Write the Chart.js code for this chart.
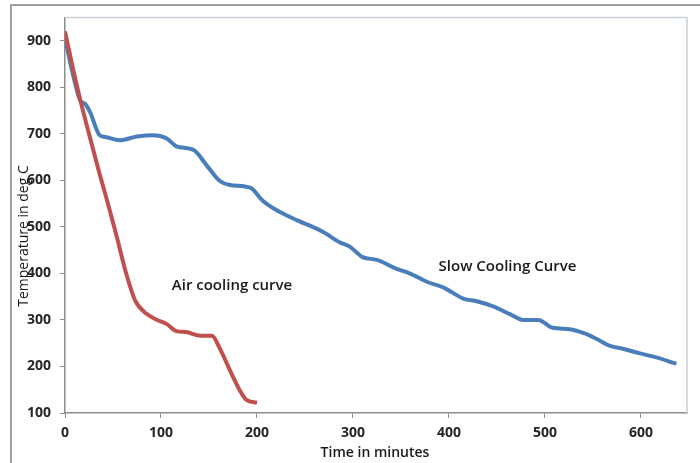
<!DOCTYPE html>
<html>
<head>
<meta charset="utf-8">
<script src="https://cdn.jsdelivr.net/npm/chart.js@4.4.0/dist/chart.umd.min.js"></script>
<style>
    html, body { margin: 0; padding: 0; background: #fff; }
    #wrap { position: relative; width: 700px; height: 463px; }
    #frame { position: absolute; left: 10px; top: 4px; right: 0; bottom: 0;
             border-top: 2px solid #a0a0a0; border-left: 2px solid #a0a0a0; }
    canvas { position: absolute; left: 0; top: 0; }
</style>
</head>
<body>
<div id="wrap">
    <div id="frame"></div>
    <canvas id="coolingChart" width="700" height="463"></canvas>
</div>
<script>
// cooling curves (minutes, deg C)
const airTime = [0, 8, 16, 26, 36, 45, 54, 64, 73, 85, 96, 106, 116, 126, 141, 153, 161, 172, 182, 189, 200];
const airTemp = [920, 843, 772, 692, 614, 548, 478, 398, 342, 313, 300, 291, 276, 274, 266, 266, 240, 191, 149, 128, 122];

const slowTime = [0, 8, 16, 21, 26, 36, 42, 57, 75, 92, 106, 116, 134, 148, 161, 172, 193, 206, 221, 242, 269, 286,
    297, 310, 325, 345, 359, 377, 394, 415, 429, 446, 464, 477, 493, 508, 526, 540, 554, 568, 581, 599, 613, 637];
const slowTemp = [905, 830, 771, 764, 747, 697, 693, 686, 694, 697, 690, 673, 665, 631, 599, 590, 584, 556, 535, 514, 489, 467,
    457, 435, 429, 410, 400, 382, 370, 346, 340, 329, 312, 300, 300, 283, 280, 272, 259, 244, 238, 228, 221, 206];

const xTicks = [0, 100, 200, 300, 400, 500, 600];
const yTicks = [100, 200, 300, 400, 500, 600, 700, 800, 900];

const curveLabels = [
    { text: 'Air cooling curve', x: 174, y: 374 },
    { text: 'Slow Cooling Curve', x: 461, y: 414 }
];

function toPoints(xs, ys) {
    return xs.map((x, i) => ({ x: x, y: ys[i] }));
}

const frameAndLabels = {
    id: 'frameAndLabels',
    beforeDatasetsDraw(chart) {
        const { ctx, chartArea } = chart;
        ctx.save();
        ctx.strokeStyle = '#c9d1da';
        ctx.lineWidth = 1.5;
        ctx.beginPath();
        ctx.moveTo(chartArea.left, chartArea.top);
        ctx.lineTo(chartArea.right, chartArea.top);
        ctx.lineTo(chartArea.right, chartArea.bottom);
        ctx.stroke();
        ctx.restore();
    },
    afterDraw(chart) {
        const { ctx, scales } = chart;
        ctx.save();
        ctx.fillStyle = '#1a1a1a';
        ctx.textAlign = 'center';
        ctx.textBaseline = 'middle';
        ctx.font = '600 15px "Open Sans"';
        curveLabels.forEach(l => {
            ctx.fillText(l.text, scales.x.getPixelForValue(l.x), scales.y.getPixelForValue(l.y));
        });

        ctx.font = '600 14px "Open Sans"';
        ctx.fillText('Time in minutes', 375, 453);

        ctx.translate(24, 236);
        ctx.rotate(-Math.PI / 2);
        ctx.font = '14px "Open Sans"';
        ctx.fillText('Temperature in deg C', 0, 0);
        ctx.restore();
    }
};

new Chart(document.getElementById('coolingChart').getContext('2d'), {
    type: 'scatter',
    data: {
        datasets: [
            {
                label: 'Air cooling curve',
                data: toPoints(airTime, airTemp),
                showLine: true,
                borderColor: '#c0504d',
                borderWidth: 4,
                pointRadius: 0,
                cubicInterpolationMode: 'monotone'
            },
            {
                label: 'Slow Cooling Curve',
                data: toPoints(slowTime, slowTemp),
                showLine: true,
                borderColor: '#4a7ebb',
                borderWidth: 4,
                pointRadius: 0,
                cubicInterpolationMode: 'monotone'
            }
        ]
    },
    options: {
        responsive: false,
        animation: false,
        layout: { padding: { top: 13, right: 13, left: 0, bottom: 0 } },
        plugins: {
            legend: { display: false },
            tooltip: { enabled: false }
        },
        scales: {
            x: {
                type: 'linear',
                min: 0,
                max: 648,
                afterBuildTicks: axis => { axis.ticks = xTicks.map(v => ({ value: v })); },
                afterFit: axis => { axis.height = 50; },
                grid: { drawOnChartArea: false, tickLength: 5, color: '#8c8c8c' },
                border: { color: '#8c8c8c', width: 1.5 },
                ticks: { color: '#262626', font: { family: 'Open Sans', size: 14, weight: 'bold' }, padding: 7 }
            },
            y: {
                min: 100,
                max: 950,
                afterBuildTicks: axis => { axis.ticks = yTicks.map(v => ({ value: v })); },
                afterFit: axis => { axis.width = 65; },
                grid: { drawOnChartArea: false, tickLength: 5, color: '#8c8c8c' },
                border: { color: '#8c8c8c', width: 1.5 },
                ticks: { color: '#262626', font: { family: 'Open Sans', size: 14, weight: 'bold' }, padding: 9 }
            }
        }
    },
    plugins: [frameAndLabels]
});
</script>
</body>
</html>
